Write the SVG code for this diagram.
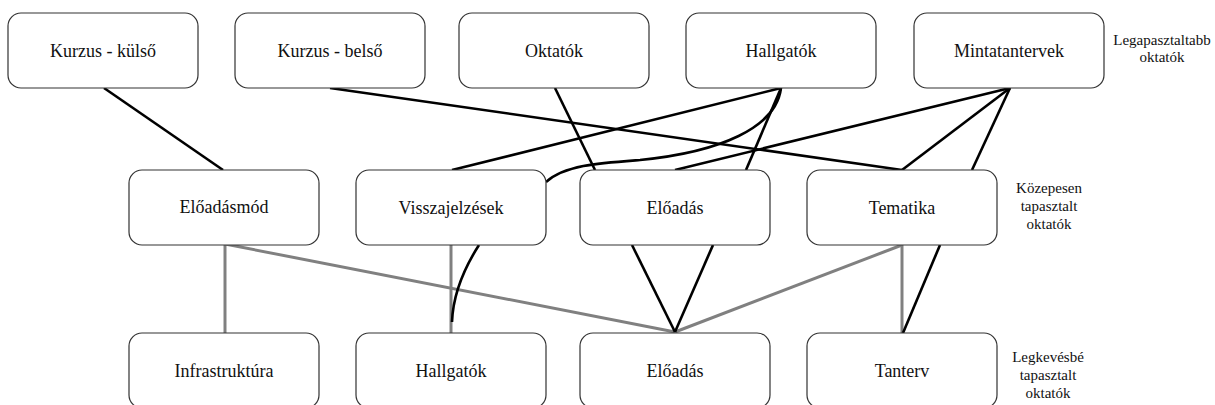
<svg xmlns="http://www.w3.org/2000/svg" width="1215" height="405" viewBox="0 0 1215 405">
  <style>
    .box { fill: #ffffff; stroke: #333333; stroke-width: 1.2; }
    .lbl { font-family: "Liberation Serif", "Times New Roman", serif; font-size: 18px; fill: #111111; text-anchor: middle; dominant-baseline: central; }
    .lvl { font-family: "Liberation Serif", "Times New Roman", serif; font-size: 15px; fill: #111111; text-anchor: middle; }
    .blk { fill: none; stroke: #000000; stroke-width: 2.6; }
    .gry { fill: none; stroke: #808080; stroke-width: 3; }
  </style>
  <rect width="1215" height="405" fill="#ffffff"/>

  <!-- connectors: grey links below, black links on top -->
  <g id="connectors">
    <line class="gry" x1="225" y1="244" x2="225" y2="333"/>
    <line class="gry" x1="225" y1="244" x2="675" y2="332"/>
    <line class="gry" x1="451" y1="245" x2="451" y2="333"/>
    <line class="gry" x1="902" y1="245" x2="902" y2="333"/>
    <line class="gry" x1="902" y1="245" x2="675" y2="332"/>
    <line class="blk" x1="104" y1="88" x2="223" y2="170"/>
    <line class="blk" x1="330" y1="88" x2="902" y2="170"/>
    <line class="blk" x1="555" y1="88" x2="595" y2="170"/>
    <line class="blk" x1="781" y1="88" x2="452" y2="170"/>
    <line class="blk" x1="781" y1="88" x2="746" y2="170"/>
    <path class="blk" d="M781 88 C776 128 720 152 640 160 C600 163 565 165 546 182"/>
    <line class="blk" x1="1010" y1="88" x2="675" y2="170"/>
    <line class="blk" x1="1010" y1="88" x2="902" y2="170"/>
    <line class="blk" x1="1010" y1="88" x2="972" y2="170"/>
    <path class="blk" d="M479 245 C463 270 453 295 452 322"/>
    <line class="blk" x1="632" y1="245" x2="675" y2="332"/>
    <line class="blk" x1="713" y1="245" x2="675" y2="332"/>
    <line class="blk" x1="940" y1="245" x2="903" y2="333"/>
  </g>

  <!-- top row -->
  <g id="kurzus-kulso"><rect class="box" x="8" y="13" width="190" height="75" rx="13"/><text class="lbl" x="103" y="51">Kurzus  - külső</text></g>
  <g id="kurzus-belso"><rect class="box" x="235" y="13" width="190" height="75" rx="13"/><text class="lbl" x="330" y="51">Kurzus  - belső</text></g>
  <g id="oktatok"><rect class="box" x="459" y="13" width="190" height="75" rx="13"/><text class="lbl" x="554" y="51">Oktatók</text></g>
  <g id="hallgatok-top"><rect class="box" x="686" y="13" width="190" height="75" rx="13"/><text class="lbl" x="781" y="51">Hallgatók</text></g>
  <g id="mintatantervek"><rect class="box" x="914" y="13" width="190" height="75" rx="13"/><text class="lbl" x="1009" y="51">Mintatantervek</text></g>

  <!-- middle row -->
  <g id="eloadasmod"><rect class="box" x="129" y="170" width="190" height="75" rx="13"/><text class="lbl" x="224" y="207">Előadásmód</text></g>
  <g id="visszajelzesek"><rect class="box" x="356" y="170" width="190" height="75" rx="13"/><text class="lbl" x="451" y="208">Visszajelzések</text></g>
  <g id="eloadas-mid"><rect class="box" x="580" y="170" width="190" height="75" rx="13"/><text class="lbl" x="675" y="208">Előadás</text></g>
  <g id="tematika"><rect class="box" x="807" y="170" width="190" height="75" rx="13"/><text class="lbl" x="902" y="208">Tematika</text></g>

  <!-- bottom row -->
  <g id="infrastruktura"><rect class="box" x="129" y="333" width="190" height="75" rx="13"/><text class="lbl" x="224" y="371">Infrastruktúra</text></g>
  <g id="hallgatok-bottom"><rect class="box" x="356" y="333" width="190" height="75" rx="13"/><text class="lbl" x="451" y="371">Hallgatók</text></g>
  <g id="eloadas-bottom"><rect class="box" x="580" y="333" width="190" height="75" rx="13"/><text class="lbl" x="675" y="371">Előadás</text></g>
  <g id="tanterv"><rect class="box" x="807" y="333" width="190" height="75" rx="13"/><text class="lbl" x="902" y="371">Tanterv</text></g>

  <!-- level captions -->
  <g id="level-top">
    <text class="lvl" x="1162" y="45">Legapasztaltabb</text>
    <text class="lvl" x="1162" y="62">oktatók</text>
  </g>
  <g id="level-mid">
    <text class="lvl" x="1049" y="193">Közepesen</text>
    <text class="lvl" x="1049" y="211">tapasztalt</text>
    <text class="lvl" x="1049" y="229">oktatók</text>
  </g>
  <g id="level-bottom">
    <text class="lvl" x="1048" y="362">Legkevésbé</text>
    <text class="lvl" x="1048" y="380">tapasztalt</text>
    <text class="lvl" x="1048" y="398">oktatók</text>
  </g>
</svg>
